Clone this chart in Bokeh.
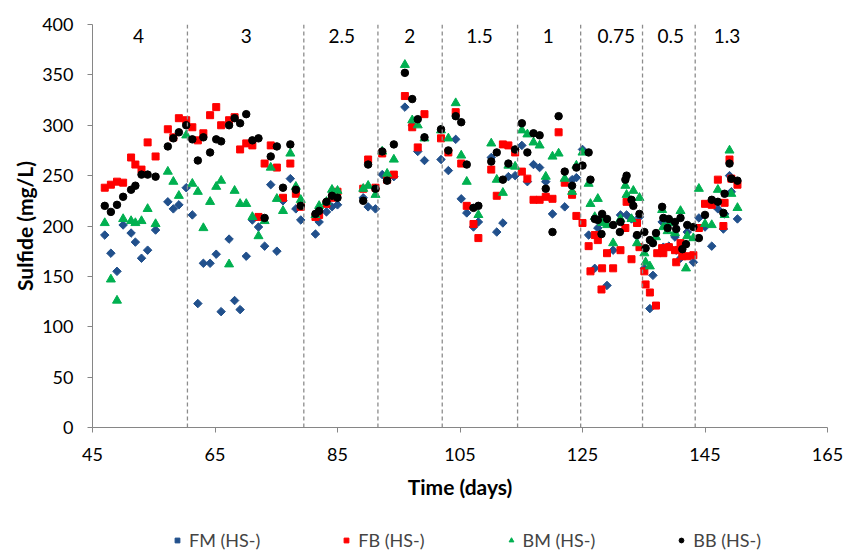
import numpy as np
from bokeh.plotting import figure
from bokeh.models import Span, Legend, FixedTicker, Title
from bokeh.layouts import column
from bokeh.core.properties import value
from bokeh.embed import file_html
from bokeh.resources import INLINE

nan = float("nan")

days = [47, 48, 49, 50, 51.3, 52, 53, 54, 55.3, 57.3, 58.2, 59.1, 60.3, 61.3, 62.2, 63.1,
        64.2, 65.2, 66, 67.3, 68.2, 69.1, 70.1, 71.1, 72.1, 73.1, 74.1, 75.1, 76.1, 77.3,
        78.2, 79, 81.4, 82, 83.2, 84.1, 85, 89.2, 90, 91.2, 92.3, 93.1, 94.2, 96, 97.2,
        98.1, 99.2, 101.9, 103.1, 104.3, 105.2, 106.1, 107.2, 108, 110.1, 111, 112, 112.9,
        114, 115.1, 116, 117, 118, 119, 120.1, 121.1, 122.1, 123.3, 124, 125, 126, 126.3,
        127, 127.5, 128.1, 128.2, 129, 130, 131.1, 131.2, 132, 132.2, 133, 133.3, 133.9,
        134.3, 135.1, 135.3, 136, 136.5, 137, 137.2, 138, 138.2, 138.9, 139.1, 140.1, 140.3,
        141, 141.3, 141.9, 142.1, 143.1, 144, 145, 146.1, 147.1, 148, 148.2, 149, 149.3, 150.3]

fm = [191, 173, 155, 201, 193, 184, 168, 176, 196, 224, 217, 221, 238, 211, 123, 163,
      163, 172, 115, 187, 126, 117, 170, 206, 199, 180, 241, 175, 225, 247,
      217, 206, 192, 204, 214, 219, 221, 228, 219, 217, 251, 250, 249, 318, 300,
      274, 265, 266, 255, 286, 227, 213, 199, 204, 268, 194, 203, 249,
      250, 280, 244, 261, 258, 244, 212, nan, 219, 246, 248, 276, 191, nan,
      158, 198, nan, nan, 141, 176, nan, 211, nan, 211, 207, nan, 190,
      209, 158, nan, 118, 151, nan, nan, 204, 179, nan, 180, 189, 176,
      168, nan, nan, 194, 164, 208, 199, 180, 217, 197, 212, 250, 234, 207]

fb = [238, 241, 244, 243, 268, 261, 256, 283, 269, 296, 288, 307, 305, 298, 285, 292,
      310, 318, 300, 305, 308, 276, 282, 280, 209, 262, 280, 258, 228, 262,
      232, 219, 209, 211, 222, 228, 234, 237, 266, 238, 272, 246, 251, 329, 298,
      278, 311, 287, 273, 313, 262, 220, 202, 188, 256, 230, 281, 280,
      273, 254, 247, 226, 226, 229, 227, 293, 243, 231, 210, 203, 180, 155,
      191, 186, 137, 158, 173, 158, nan, 176, 198, 224, 167, nan, 203,
      179, 155, 142, 134, nan, 121, 173, 178, 173, nan, 179, 176, 164,
      183, 170, nan, 170, 171, 198, 222, 221, 246, 200, 223, 266, 247, 241]

bm = [203, 147, 126, 207, 205, 203, 205, 217, 202, 254, 244, 230, 290, 242, 234, 198,
      224, 239, 245, 162, 235, 222, 222, 209, 190, 205, 258, 227, 215, 272,
      239, 226, 211, 220, 224, 236, 235, 237, 240, 231, 274, 252, 266, 360, 305,
      300, 287, 295, 287, 322, 270, 244, nan, 211, 282, 246, 233, 260,
      259, 295, 291, 283, 280, 249, 269, 272, 247, 234, 260, 273, 242, 222,
      209, 227, nan, 203, 201, 183, nan, 207, 240, 231, 207, 235, 183,
      228, 173, 164, 160, nan, 189, nan, 216, 199, 195, 203, 193, nan,
      215, nan, 158, 190, 188, 237, 202, 201, 236, nan, 211, 275, 232, 218]

bb = [220, 214, 221, 229, 236, 240, 251, 251, 249, 279, 287, 293, 300, 286, 265, 288,
      273, 286, 284, 300, 307, 302, 311, 285, 287, 208, 269, 279, 238, 281,
      236, 220, 212, 215, 224, 230, 228, 225, 261, 237, 274, 245, 281, 352, 326,
      306, 288, 296, 275, 309, 303, 261, 218, 220, 264, 273, 246, 262,
      276, 302, 273, 292, 290, 237, 194, 309, 254, 240, 258, 260, 273, 246,
      207, 206, 192, 212, 207, 201, 194, 204, 246, 250, 226, 220, 191,
      212, 194, 178, 186, 183, 193, nan, 219, 208, 198, 207, 204, 197,
      208, 177, 182, 201, 199, 188, 211, 226, 224, 213, 232, 262, 247, 245]

series_names = ["FM (HS-)", "FB (HS-)", "BM (HS-)", "BB (HS-)"]
phase_bounds = [60.5, 79.5, 91.6, 102.1, 114.4, 124.7, 134.8, 143.4]
phase_labels = ["4", "3", "2.5", "2", "1.5", "1", "0.75", "0.5", "1.3"]
phase_label_x = [52.5, 70.1, 85.7, 96.8, 108.2, 119.4, 130.5, 139.4, 148.6]
phase_label_y = [389] * 9
x_ticks = [45, 65, 85, 105, 125, 145, 165]
y_ticks = [0, 50, 100, 150, 200, 250, 300, 350, 400]

FONT = "Lato"
AXIS_COLOR = "#868686"
COLORS = ["#21508C", "#FF0000", "#00B050", "#000000"]
MARKERS = ["square", "square", "triangle", "circle"]
ANGLES = [np.pi / 4, 0, 0, 0]
SIZES = [6, 7, 9, 7.5]
LEGEND_SIZES = [5, 6, 7.5, 6]

p = figure(width=843, height=512, x_range=(45, 165), y_range=(0, 400),
           output_backend="svg", toolbar_location=None, title=None,
           min_border_left=92, min_border_right=16, min_border_top=24,
           min_border_bottom=85)
p.outline_line_color = None
p.grid.visible = False

for ax, ticks in ((p.xaxis, x_ticks), (p.yaxis, y_ticks)):
    ax.ticker = FixedTicker(ticks=ticks)
    ax.axis_line_color = AXIS_COLOR
    ax.major_tick_line_color = AXIS_COLOR
    ax.major_tick_in = 0
    ax.major_tick_out = 5
    ax.minor_tick_line_color = None
    ax.major_label_text_font = FONT
    ax.major_label_text_font_size = "18px"
    ax.major_label_text_color = "black"
p.xaxis.major_label_standoff = 15
p.yaxis.major_label_standoff = 14

p.xaxis.axis_label = "Time (days)"
p.xaxis.axis_label_text_font = FONT
p.xaxis.axis_label_text_font_size = "21px"
p.xaxis.axis_label_text_font_style = "bold"
p.xaxis.axis_label_text_color = "black"
p.xaxis.axis_label_standoff = 10

ytitle = Title(text="Sulfide (mg/L)", align="center", offset=45, standoff=6,
               text_font=FONT, text_font_size="21px", text_font_style="bold",
               text_color="black")
p.add_layout(ytitle, "left")

for b in phase_bounds:
    p.add_layout(Span(location=b, dimension="height", line_color="#8c8c8c",
                      line_dash="4 3", line_width=1.3))

p.text(x=phase_label_x, y=phase_label_y, text=phase_labels, text_align="center",
       text_baseline="middle", text_font=value(FONT), text_font_size="19px",
       text_color="black")

x = np.array(days, dtype=float)
series = [np.array(v, dtype=float) for v in (fm, fb, bm, bb)]
for vals, c, m, a, s in zip(series, COLORS, MARKERS, ANGLES, SIZES):
    p.scatter(x, vals, marker=m, angle=a, size=s, fill_color=c, line_color=c)

# legend strip below the chart (its own ranges keep the proxy glyphs out of view)
q = figure(width=843, height=40, x_range=(0, 1), y_range=(0, 1),
           output_backend="svg", toolbar_location=None, title=None,
           x_axis_location=None, y_axis_location=None,
           min_border_left=0, min_border_right=0, min_border_top=0, min_border_bottom=0)
q.outline_line_color = None
q.grid.visible = False
items = []
for name, vals, c, m, a, s in zip(series_names, series, COLORS, MARKERS, ANGLES, LEGEND_SIZES):
    r = q.scatter(x, vals, marker=m, angle=a, size=s, fill_color=c, line_color=c)
    items.append((name, [r]))
legend = Legend(items=items, orientation="horizontal", location=(79, 1),
                border_line_color=None, background_fill_alpha=0,
                label_text_font=FONT, label_text_font_size="18px",
                glyph_width=12, glyph_height=18, label_height=18,
                label_standoff=6, spacing=80, padding=0, margin=0)
q.add_layout(legend)

open("out.html", "w").write(file_html(column(p, q, spacing=0), INLINE))
